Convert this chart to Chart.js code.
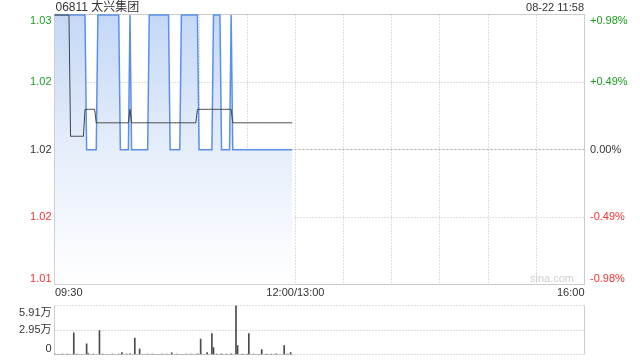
<!DOCTYPE html>
<html><head><meta charset="utf-8">
<script src="https://cdn.jsdelivr.net/npm/chart.js@4/dist/chart.umd.min.js"></script>
<style>
html,body{margin:0;padding:0;background:#fff;width:640px;height:360px;overflow:hidden}
#c1{position:absolute;left:0;top:0}
#c2{position:absolute;left:0;top:300px}
</style></head><body>
<canvas id="c1" width="640" height="300"></canvas>
<canvas id="c2" width="640" height="60"></canvas>
<script>
const stockTitle = '06811 太兴集团';
const stampText = '08-22 11:58';
const watermark = 'sina.com';
const priceMin = 1.01, priceMax = 1.03;
const priceTicks = [1.03, 1.025, 1.02, 1.015, 1.01];
const priceTickLabels = ['1.03', '1.02', '1.02', '1.02', '1.01'];
const pctTickLabels = ['+0.98%', '+0.49%', '0.00%', '-0.49%', '-0.98%'];
const timeGrid = [30, 60, 90, 120, 150, 180, 210, 240, 270, 300];
const timeTicks = [0, 150, 330];
const timeTickLabels = ['09:30', '12:00/13:00', '16:00'];
const volMax = 59100;
const volTicks = [59100, 29550, 0];
const volTickLabels = ['5.91万', '2.95万', '0'];

const price = [
1.03,1.03,1.03,1.03,1.03,1.03,1.03,1.03,1.03,1.03,
1.03,1.03,1.03,1.03,1.03,1.03,1.03,1.03,1.03,1.03,
1.02,1.02,1.02,1.02,1.02,1.02,1.02,1.03,1.03,1.03,
1.03,1.03,1.03,1.03,1.03,1.03,1.03,1.03,1.03,1.03,
1.03,1.02,1.02,1.02,1.02,1.02,1.02,1.03,1.02,1.02,
1.02,1.02,1.02,1.02,1.02,1.02,1.02,1.02,1.02,1.03,
1.03,1.03,1.03,1.03,1.03,1.03,1.03,1.03,1.03,1.03,
1.03,1.03,1.02,1.02,1.02,1.02,1.02,1.02,1.02,1.03,
1.03,1.03,1.03,1.03,1.03,1.03,1.03,1.03,1.03,1.03,
1.02,1.02,1.02,1.02,1.02,1.02,1.02,1.02,1.02,1.03,
1.03,1.03,1.03,1.03,1.02,1.02,1.02,1.02,1.02,1.02,
1.03,1.02,1.02,1.02,1.02,1.02,1.02,1.02,1.02,1.02,
1.02,1.02,1.02,1.02,1.02,1.02,1.02,1.02,1.02,1.02,
1.02,1.02,1.02,1.02,1.02,1.02,1.02,1.02,1.02,1.02,
1.02,1.02,1.02,1.02,1.02,1.02,1.02,1.02,1.02
];
const avgPrice = [
1.03,1.03,1.03,1.03,1.03,1.03,1.03,1.03,1.03,1.03,
1.021,1.021,1.021,1.021,1.021,1.021,1.021,1.021,1.021,1.023,
1.023,1.023,1.023,1.023,1.023,1.023,1.022,1.022,1.022,1.022,
1.022,1.022,1.022,1.022,1.022,1.022,1.022,1.022,1.022,1.022,
1.022,1.022,1.022,1.022,1.022,1.022,1.022,1.023,1.022,1.022,
1.022,1.022,1.022,1.022,1.022,1.022,1.022,1.022,1.022,1.022,
1.022,1.022,1.022,1.022,1.022,1.022,1.022,1.022,1.022,1.022,
1.022,1.022,1.022,1.022,1.022,1.022,1.022,1.022,1.022,1.022,
1.022,1.022,1.022,1.022,1.022,1.022,1.022,1.022,1.022,1.023,
1.023,1.023,1.023,1.023,1.023,1.023,1.023,1.023,1.023,1.023,
1.023,1.023,1.023,1.023,1.023,1.023,1.023,1.023,1.023,1.023,
1.023,1.022,1.022,1.022,1.022,1.022,1.022,1.022,1.022,1.022,
1.022,1.022,1.022,1.022,1.022,1.022,1.022,1.022,1.022,1.022,
1.022,1.022,1.022,1.022,1.022,1.022,1.022,1.022,1.022,1.022,
1.022,1.022,1.022,1.022,1.022,1.022,1.022,1.022,1.022
];
const volume = [
800,0,300,0,0,500,0,0,400,0,
0,0,26200,0,600,0,0,300,0,0,
12900,1000,0,0,400,0,0,0,29000,0,
500,0,0,300,0,0,600,0,0,0,
400,0,2400,0,0,500,0,800,0,0,
19700,0,0,6400,0,300,0,0,500,0,
0,400,0,0,300,0,0,500,0,0,
400,0,0,2000,0,0,500,0,0,300,
0,0,600,0,0,400,0,0,0,800,
0,18500,0,0,0,2400,0,0,25300,8400,
0,500,0,0,700,0,0,400,0,0,
900,0,0,59100,10900,0,0,500,0,0,
400,25300,0,0,600,0,0,300,0,6000,
0,0,500,0,0,400,0,0,700,0,
0,0,0,10900,0,500,0,2400,0
];

const FONT = '"Liberation Sans", Arial, "Noto Sans CJK SC", sans-serif';
const GREEN = '#1c9e1c', RED = '#ee3333', DARK = '#333333';
const GRIDC = '#bcbcbc', BORDERC = '#cccccc';

function line(ctx, x1, y1, x2, y2, color, dash) {
  ctx.save();
  ctx.strokeStyle = color; ctx.lineWidth = 1; ctx.setLineDash(dash || []);
  ctx.beginPath(); ctx.moveTo(x1, y1); ctx.lineTo(x2, y2); ctx.stroke();
  ctx.restore();
}
function txt(ctx, s, x, y, color, align, size) {
  ctx.save();
  ctx.font = (size || 11) + 'px ' + FONT;
  ctx.fillStyle = color; ctx.textAlign = align; ctx.textBaseline = 'middle';
  ctx.fillText(s, x, y);
  ctx.restore();
}
const px = p => Math.floor(p) + 0.5;

const grid1 = {
  id: 'grid1',
  beforeDatasetsDraw(chart) {
    const ctx = chart.ctx, xs = chart.scales.x, ys = chart.scales.y;
    const L = 54.5, R = 584.5, T = 14.5, B = 284.5;
    timeGrid.forEach(m => { const x = px(xs.getPixelForValue(m)); line(ctx, x, T, x, B, GRIDC, [1, 2]); });
    [1.025, 1.015].forEach(v => { const y = px(ys.getPixelForValue(v)); line(ctx, L, y, R, y, GRIDC, [1, 2]); });
    const y0 = px(ys.getPixelForValue(1.02));
    line(ctx, L, y0, R, y0, '#a8a8a8', [2, 2]);
    ctx.save(); ctx.strokeStyle = BORDERC; ctx.lineWidth = 1;
    ctx.strokeRect(L, T, R - L, B - T); ctx.restore();
  },
  afterDraw(chart) {
    const ctx = chart.ctx, xs = chart.scales.x, ys = chart.scales.y;
    txt(ctx, stockTitle, 55.5, 7.5, DARK, 'left', 12);
    txt(ctx, stampText, 584, 7.5, DARK, 'right', 11);
    priceTicks.forEach((v, i) => {
      let y = ys.getPixelForValue(v);
      if (i === 0) y += 5.5; else if (i === priceTicks.length - 1) y -= 6;
      const c = i < 2 ? GREEN : (i === 2 ? DARK : RED);
      txt(ctx, priceTickLabels[i], 51.5, y, c, 'right');
      txt(ctx, pctTickLabels[i], 590, y, c, 'left');
    });
    timeTicks.forEach((m, i) => {
      const x = xs.getPixelForValue(m);
      const al = i === 0 ? 'left' : (i === timeTicks.length - 1 ? 'right' : 'center');
      txt(ctx, timeTickLabels[i], i === 0 ? x + 0.5 : x, 293, DARK, al);
    });
    txt(ctx, watermark, 574, 279, '#cfcfcf', 'right', 11);
  }
};

new Chart(document.getElementById('c1'), {
  type: 'line',
  data: { datasets: [
    { label: '均价', data: avgPrice.map((v, i) => ({ x: i, y: v })), borderColor: '#444444', borderWidth: 1,
      pointRadius: 0, fill: false, tension: 0, order: 0, clip: 4 },
    { label: '价格', data: price.map((v, i) => ({ x: i, y: v })), borderColor: '#5a90ea', borderWidth: 1.5,
      pointRadius: 0, tension: 0, fill: 'start', order: 1, clip: 4,
      backgroundColor: (c) => {
        const a = c.chart.chartArea;
        if (!a) return 'rgba(200,220,246,0.8)';
        const g = c.chart.ctx.createLinearGradient(0, a.top, 0, a.bottom);
        g.addColorStop(0, '#c4d8f6');
        g.addColorStop(0.5, '#e6eefb');
        g.addColorStop(1, '#ffffff');
        return g;
      } }
  ] },
  options: {
    responsive: false, animation: false, devicePixelRatio: 1,
    layout: { padding: { top: 15, left: 0, right: 0, bottom: 0 } },
    plugins: { legend: { display: false }, tooltip: { enabled: false } },
    scales: {
      x: { type: 'linear', min: 0, max: 330, ticks: { display: false }, grid: { display: false }, border: { display: false },
           afterFit(s) { s.height = 15.5; } },
      y: { position: 'left', min: priceMin, max: priceMax, ticks: { display: false }, grid: { display: false }, border: { display: false },
           afterFit(s) { s.width = 54.5; } },
      yr: { position: 'right', min: -0.98, max: 0.98, ticks: { display: false }, grid: { display: false }, border: { display: false },
           afterFit(s) { s.width = 55.5; } }
    }
  },
  plugins: [grid1]
});

const grid2 = {
  id: 'grid2',
  beforeDatasetsDraw(chart) {
    const ctx = chart.ctx, ys = chart.scales.y;
    const L = 54.5, R = 584.5;
    volTicks.forEach(v => { const y = px(ys.getPixelForValue(v)); line(ctx, L, y, R, y, GRIDC, [1, 2]); });
    const T = px(ys.getPixelForValue(volMax)), B = px(ys.getPixelForValue(0));
    line(ctx, L, T, L, B, BORDERC);
    line(ctx, R, T, R, B, BORDERC);
  },
  afterDraw(chart) {
    const ctx = chart.ctx, ys = chart.scales.y;
    volTicks.forEach((v, i) => {
      let y = ys.getPixelForValue(v);
      if (i === 0) y += 7; else if (i === volTicks.length - 1) y -= 6;
      txt(ctx, volTickLabels[i], 51.5, y, DARK, 'right');
    });
  }
};

new Chart(document.getElementById('c2'), {
  type: 'bar',
  data: { datasets: [
    { label: '成交量', data: volume.map((v, i) => ({ x: i, y: v })), backgroundColor: '#4a4a4a', borderWidth: 0,
      barThickness: 1 }
  ] },
  options: {
    responsive: false, animation: false, devicePixelRatio: 1,
    layout: { padding: { top: 5.5, left: 0, right: 0, bottom: 0 } },
    plugins: { legend: { display: false }, tooltip: { enabled: false } },
    scales: {
      x: { type: 'linear', min: 0, max: 330, offset: false, ticks: { display: false }, grid: { display: false, offset: false }, border: { display: false },
           afterFit(s) { s.height = 5.5; } },
      y: { position: 'left', min: 0, max: volMax, ticks: { display: false }, grid: { display: false }, border: { display: false },
           afterFit(s) { s.width = 54.5; } },
      yr: { position: 'right', min: 0, max: 1, ticks: { display: false }, grid: { display: false }, border: { display: false },
           afterFit(s) { s.width = 55.5; } }
    }
  },
  plugins: [grid2]
});
</script>
</body></html>
